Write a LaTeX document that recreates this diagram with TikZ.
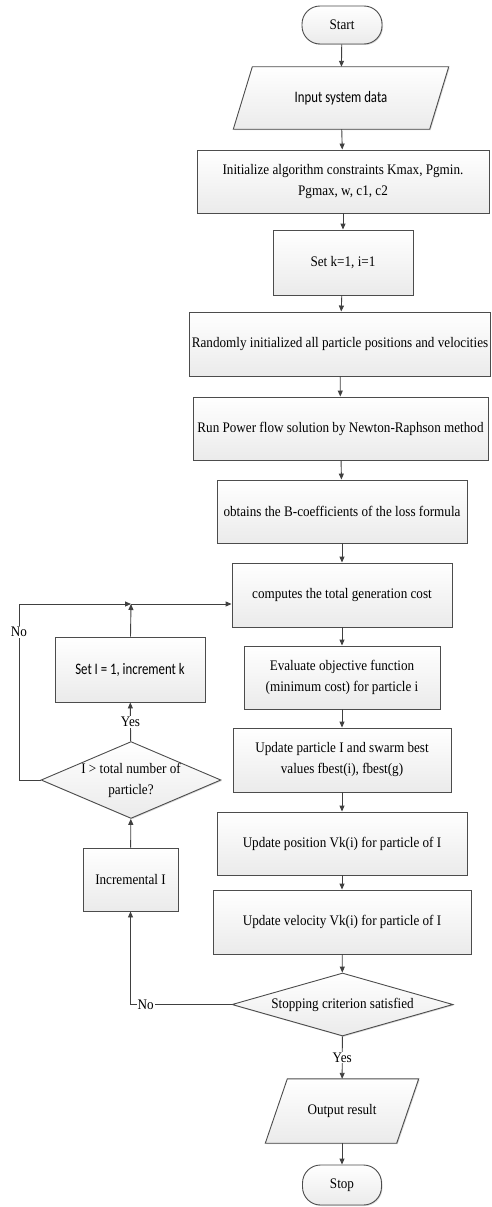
\documentclass[tikz,border=0pt]{standalone}
\usepackage{fontspec}
\setmainfont{Liberation Serif}[FakeStretch=0.9]
\newfontfamily\calibrifont{Carlito}[FakeStretch=0.8]
\usetikzlibrary{arrows.meta,shapes.geometric,shadows,backgrounds}
\def\ioframe(#1)(#2){\draw[shaded] ([xshift=#2]#1.north west) -- ([xshift=#2]#1.north east) -- ([xshift=-#2]#1.south east) -- ([xshift=-#2]#1.south west) -- cycle;}

\begin{document}
\begin{tikzpicture}[x=1pt, y=-1pt,
		font=\fontsize{14.6}{21}\selectfont,
		line/.style={draw=black!75, line width=0.9pt},
		arr/.style={line, -{Triangle[length=6pt, width=5pt]}},
		shaded/.style={draw=black!70, line width=0.9pt, top color=white, bottom color=black!8,
			drop shadow={opacity=0.3, shadow xshift=1pt, shadow yshift=-1pt}},
		box/.style={shaded, rectangle, align=center, inner sep=2pt},
		term/.style={shaded, rectangle, rounded corners=18pt, minimum width=80pt, minimum height=38pt},
		io/.style={rectangle, align=center, inner sep=1pt},
		decision/.style={shaded, diamond, align=center, inner sep=0pt},
		lbl/.style={fill=white, inner sep=1pt}]
			%%%%% START %%%%%
			\useasboundingbox (0,0) rectangle (491,1207);
			
			\node[term] (start) at (342,25) {Start};
			\node[io, minimum width=196pt, minimum height=62pt, font=\calibrifont\fontsize{16}{18}\selectfont] (input) at (341,98) {Input system data};
			\node[box, minimum width=292pt, minimum height=63pt] (init) at (343,181.5) {Initialize algorithm constraints Kmax, Pgmin.\\Pgmax, w, c1, c2};
			\node[box, minimum width=140pt, minimum height=65pt] (setk) at (343,262.5) {Set k=1, i=1};
			\node[box, minimum width=300pt, minimum height=64pt] (randinit) at (340,344) {Randomly initialized all particle positions and velocities};
			\node[box, minimum width=295pt, minimum height=63pt] (runpf) at (340.5,428.5) {Run Power flow solution by Newton-Raphson method};
			\node[box, minimum width=250pt, minimum height=63pt] (bcoef) at (342,511.5) {obtains the B-coefficients of the loss formula};
			\node[box, minimum width=220pt, minimum height=64pt] (cost) at (342,595) {computes the total generation cost};
			\node[box, minimum width=196pt, minimum height=63pt] (evalobj) at (342,677.5) {Evaluate objective function\\(minimum cost) for particle i};
			\node[box, minimum width=218pt, minimum height=64pt] (updbest) at (342,760) {Update particle I and swarm best\\values fbest(i), fbest(g)};
			\node[box, minimum width=250pt, minimum height=63pt] (updpos) at (342,843.5) {Update position Vk(i) for particle of I};
			\node[box, minimum width=258pt, minimum height=64pt] (updvel) at (342,922) {Update velocity Vk(i) for particle of I};
			\node[decision, aspect=3.5, minimum width=221pt, minimum height=63pt] (stopcrit) at (342.5,1004.5) {Stopping criterion satisfied};
			\node[io, minimum width=131pt, minimum height=64pt] (output) at (342,1111) {Output result};
			\node[term, minimum width=79pt, minimum height=40pt] (stop) at (342,1185) {Stop};
			
			\node[box, minimum width=150pt, minimum height=65pt, font=\calibrifont\fontsize{16}{18}\selectfont] (setone) at (130,669.5) {Set I = 1, increment k};
			\node[decision, aspect=2.34, minimum width=178pt, minimum height=76pt] (partchk) at (131,780) {I > total number of\\particle?};
			\node[box, minimum width=95pt, minimum height=63pt] (incr) at (130.5,879.5) {Incremental I};
			
			\begin{scope}[on background layer]
				\ioframe(input)(9.5pt)
				\ioframe(output)(11pt)
			\end{scope}
			
			\coordinate (join) at (131,604);
			\coordinate (loopcorner) at (19,604);
			
			\draw[arr] (start) -- (input);
			\draw[arr] (input) -- (init);
			\draw[arr] (init) -- (setk);
			\draw[arr] (setk) -- (randinit);
			\draw[arr] (randinit) -- (runpf);
			\draw[arr] (runpf) -- (bcoef);
			\draw[arr] (bcoef) -- (cost);
			\draw[arr] (cost) -- (evalobj);
			\draw[arr] (evalobj) -- (updbest);
			\draw[arr] (updbest) -- (updpos);
			\draw[arr] (updpos) -- (updvel);
			\draw[arr] (updvel) -- (stopcrit);
			\draw[arr] (stopcrit) -- node[lbl]{Yes} (output);
			\draw[arr] (output) -- (stop);
			
			\draw[arr] (stopcrit.west) -- node[lbl, pos=0.85]{No} (stopcrit.west -| incr) -- (incr.south);
			\draw[arr] (incr) -- (partchk);
			\draw[arr] (partchk) -- node[lbl]{Yes} (setone);
			\draw[arr] (partchk.west) -- (partchk.west -| loopcorner) -- node[lbl, pos=0.84]{No} (loopcorner) -- (join);
			\draw[arr] (setone) -- (join);
			\draw[arr] (join) -- (join -| cost.west);
			%%%%% END %%%%%
\end{tikzpicture}
\end{document}
